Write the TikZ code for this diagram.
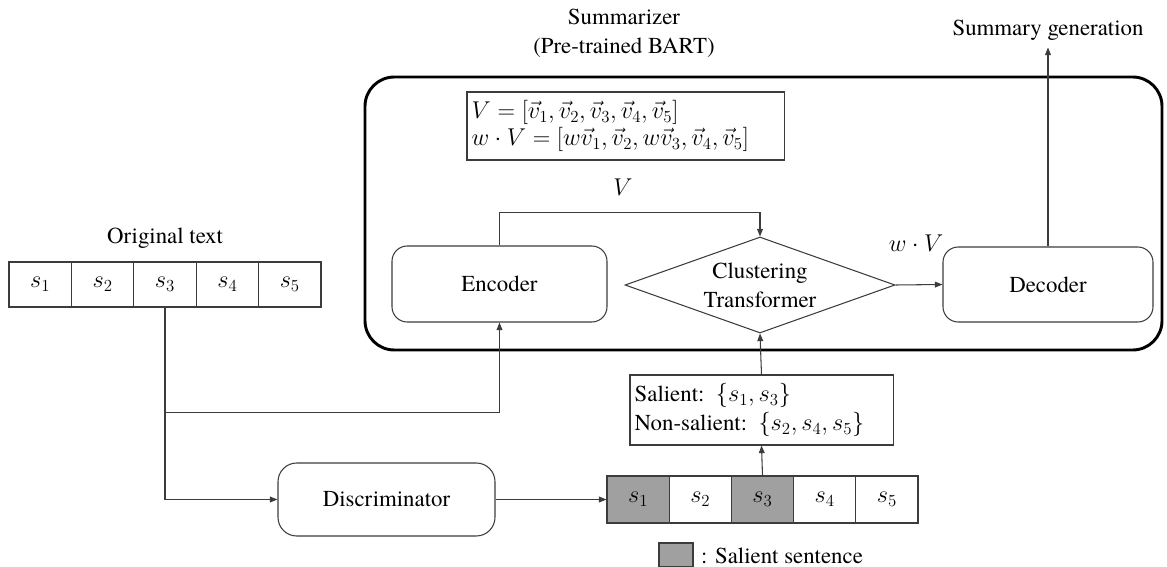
\documentclass[tikz,border=0pt]{standalone}
\usepackage{fontspec}
\setmainfont{texgyretermes}[Extension=.otf,UprightFont=*-regular,BoldFont=*-bold,ItalicFont=*-italic,BoldItalicFont=*-bolditalic]
\usetikzlibrary{arrows.meta,shapes.geometric}
\definecolor{salgray}{RGB}{160,160,160}
\definecolor{ln}{RGB}{60,60,60}
\begin{document}
\begin{tikzpicture}[x=0.03cm,y=-0.03cm,
  every node/.style={font=\fontsize{19.5}{24.7}\selectfont},
  thinline/.style={draw=ln,line width=0.9pt},
  arr/.style={thinline,-{Triangle[length=6.5pt,width=5pt]}},
  rbox/.style={thinline,rounded corners=13pt,inner sep=0pt},
  cellA/.style={thinline,minimum width=1.872cm,minimum height=1.35cm,inner sep=0pt},
  cellB/.style={thinline,minimum width=1.866cm,minimum height=1.41cm,inner sep=0pt},
  textbox/.style={thinline,inner xsep=4pt,align=left}
]
\useasboundingbox (0,0) rectangle (1167,567);

% titles
\node[align=center] (title) at (624,33) {Summarizer\\(Pre-trained BART)};
\node[inner sep=6pt] (sumgen) at (1048,30) {Summary generation};
\node (origlab) at (165,238) {Original text};

% summarizer frame
\draw[line width=2.5pt,rounded corners=25pt] (365,77) rectangle (1162,350);

% formula box
\node[textbox,text width=9.23cm,minimum height=2.04cm] (form) at (625.5,126)
  {\mbox{$V=[\vec{v}_1,\vec{v}_2,\vec{v}_3,\vec{v}_4,\vec{v}_5]$}\\[-2pt]
   \mbox{$w\cdot V=[w\vec{v}_1,\vec{v}_2,w\vec{v}_3,\vec{v}_4,\vec{v}_5]$}};

% inner blocks
\node[rbox,minimum width=6.45cm,minimum height=2.28cm] (enc) at (499.5,284) {Encoder};
\node[rbox,minimum width=6.3cm,minimum height=2.25cm] (dec) at (1048,284.5) {Decoder};
\node[thinline,diamond,aspect=2.8,inner sep=0pt,minimum width=8.1cm,minimum height=2.88cm,align=center] (clu) at (760,285) {Clustering\\Transformer};
\node (vlab) at (623,187) {$V$};
\node (wvlab) at (916,243) {$w\cdot V$};

% original text cells
\foreach \i in {1,...,5}
  \node[cellA] (o\i) at ({9+62.4*(\i-0.5)},284.5) {$s_{\i}$};

% discriminator
\node[rbox,rounded corners=16pt,minimum width=6.51cm,minimum height=2.19cm] (disc) at (386.5,499.5) {Discriminator};

% labelled cells
\foreach \i/\f in {1/salgray,2/white,3/salgray,4/white,5/white}
  \node[cellB,fill=\f] (b\i) at ({607+62.2*(\i-0.5)},499.5) {$s_{\i}$};

% salient box
\node[textbox,text width=7.61cm,minimum height=2.1cm] (sal) at (761.5,410)
  {Salient: $\{s_1,s_3\}$\\Non-salient: $\{s_2,s_4,s_5\}$};

% legend
\node[thinline,fill=salgray,minimum width=1.02cm,minimum height=0.72cm,inner sep=0pt] (leg) at (676,555) {};
\node[anchor=west] (legt) at (697,556) {: Salient sentence};

% connectors
\path (o3.south) ++(0,105) coordinate (j);
\draw[arr] (o3.south) |- (disc.west);
\draw[arr] (j) -| (enc.south);
\draw[arr] (disc.east) -- (b1.west);
\draw[arr] (b3.north) -- (sal.south);
\draw[arr] (sal.north) -- (clu.south);
\draw[arr] (enc.north) -- ++(0,-33) -| (clu.north);
\draw[arr] (clu.east) -- (dec.west);
\draw[arr] (dec.north) -- (dec.north |- sumgen.south);
\end{tikzpicture}
\end{document}
